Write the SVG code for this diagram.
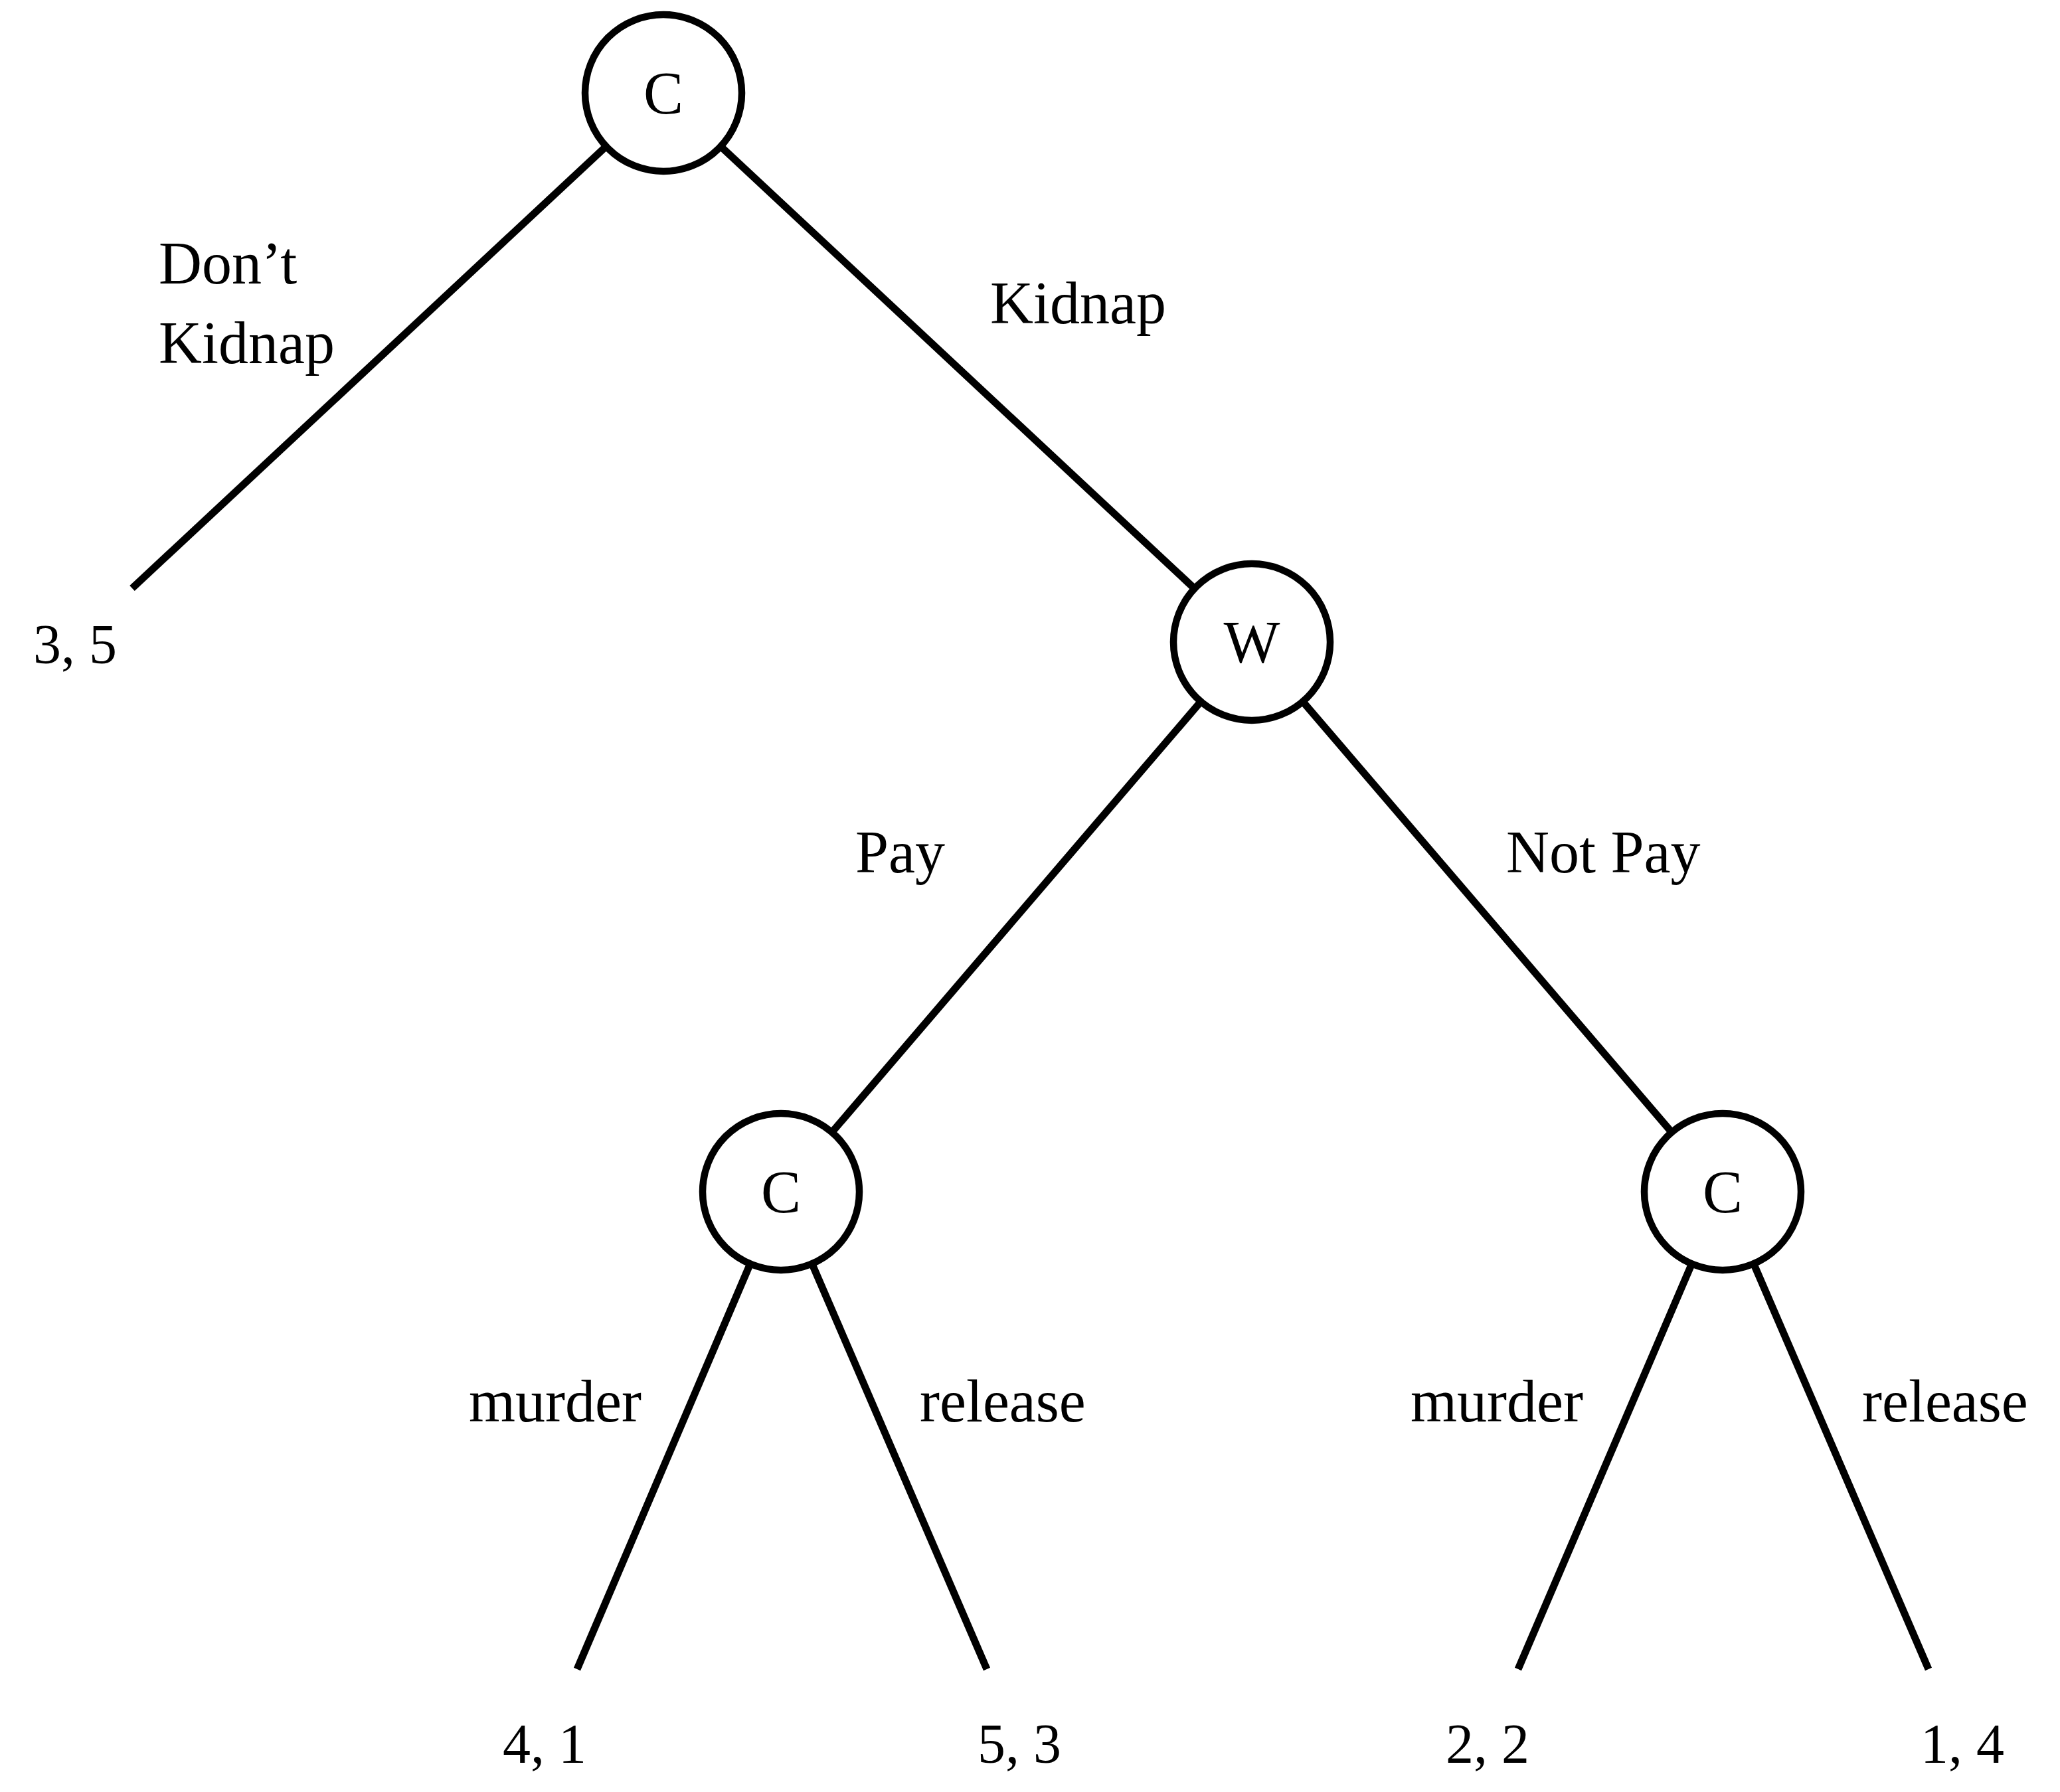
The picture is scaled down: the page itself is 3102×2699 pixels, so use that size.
<svg xmlns="http://www.w3.org/2000/svg" width="3102" height="2699" viewBox="0 0 3102 2699">
<style>
.edge{stroke:#000;stroke-width:11;stroke-linecap:butt;fill:none}
.node{fill:#fff;stroke:#000;stroke-width:10.5}
.t{font-family:"Liberation Serif","DejaVu Serif",serif;font-size:90px;fill:#000}
.n{font-family:"Liberation Serif","DejaVu Serif",serif;font-size:84px;fill:#000}
.nl{text-anchor:middle}
</style>
<rect width="3102" height="2699" fill="#fff"/>
<g id="connectors">
<line class="edge" x1="999" y1="140" x2="199" y2="886"/>
<line class="edge" x1="999" y1="140" x2="1885" y2="967"/>
<line class="edge" x1="1885" y1="967" x2="1176" y2="1795"/>
<line class="edge" x1="1885" y1="967" x2="2594" y2="1795"/>
<line class="edge" x1="1176" y1="1795" x2="869" y2="2514"/>
<line class="edge" x1="1176" y1="1795" x2="1486" y2="2514"/>
<line class="edge" x1="2594" y1="1795" x2="2286" y2="2514"/>
<line class="edge" x1="2594" y1="1795" x2="2904" y2="2514"/>
</g>
<g id="node-root">
<circle class="node" cx="999" cy="140" r="118"/>
<text class="t nl" x="999" y="171">C</text>
</g>
<g id="node-w">
<circle class="node" cx="1885" cy="967" r="118"/>
<text class="t nl" x="1885" y="998">W</text>
</g>
<g id="node-c-pay">
<circle class="node" cx="1176" cy="1795" r="118"/>
<text class="t nl" x="1176" y="1826">C</text>
</g>
<g id="node-c-notpay">
<circle class="node" cx="2594" cy="1795" r="118"/>
<text class="t nl" x="2594" y="1826">C</text>
</g>
<g id="edge-labels">
<text class="t" x="239" y="427">Don’t</text>
<text class="t" x="239" y="547">Kidnap</text>
<text class="t" x="1491" y="487">Kidnap</text>
<text class="t" x="1288" y="1314">Pay</text>
<text class="t" x="2268" y="1314">Not Pay</text>
<text class="t" x="706" y="2141">murder</text>
<text class="t" x="1385" y="2141">release</text>
<text class="t" x="2124" y="2141">murder</text>
<text class="t" x="2804" y="2141">release</text>
</g>
<g id="leaf-payoffs">
<text class="n" x="50" y="999">3, 5</text>
<text class="n" x="757" y="2655">4, 1</text>
<text class="n" x="1472" y="2655">5, 3</text>
<text class="n" x="2177" y="2655">2, 2</text>
<text class="n" x="2892" y="2655">1, 4</text>
</g>
</svg>
